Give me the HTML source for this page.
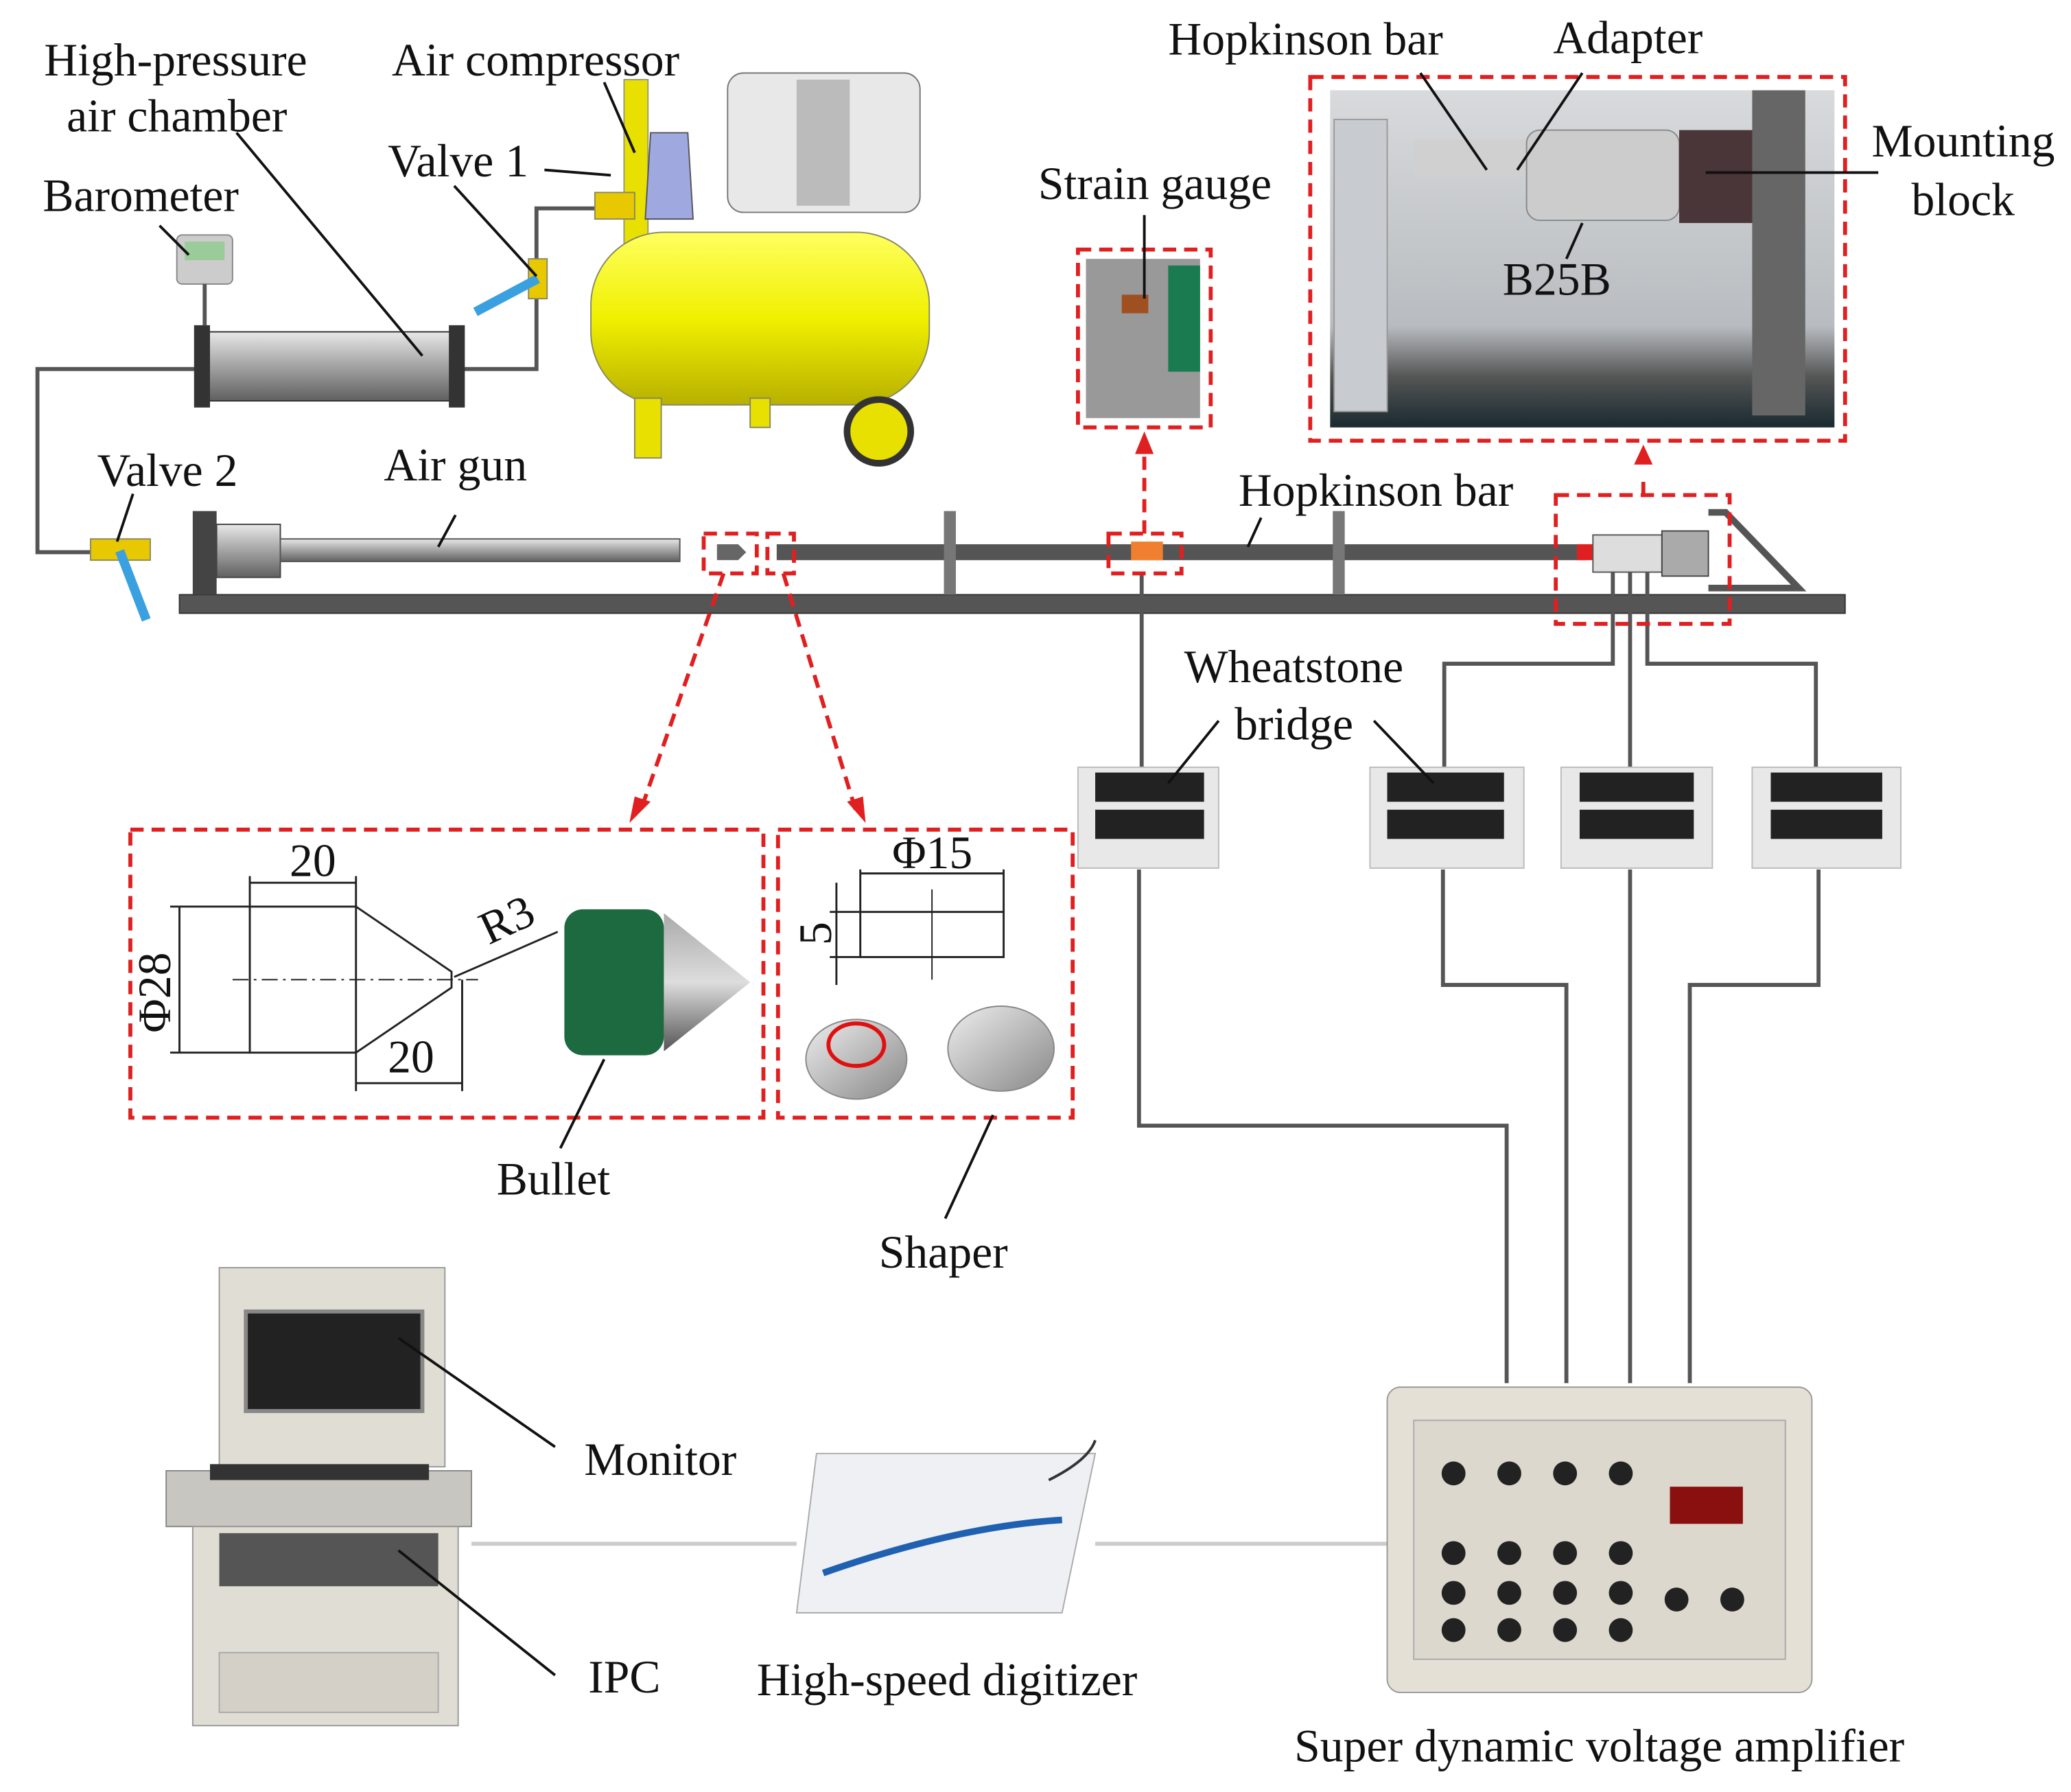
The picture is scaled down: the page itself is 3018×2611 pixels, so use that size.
<!DOCTYPE html>
<html><head><meta charset="utf-8"><style>
html,body{margin:0;padding:0;background:#fff}
svg{display:block}
text{font-family:"Liberation Serif",serif;font-size:35px;fill:#111}
</style></head><body>
<svg width="3018" height="2611" viewBox="0 0 1560 1350" xmlns="http://www.w3.org/2000/svg">
<defs>
<linearGradient id="cyl" x1="0" y1="0" x2="0" y2="1"><stop offset="0" stop-color="#e8e8e8"/><stop offset=".4" stop-color="#b0b0b0"/><stop offset="1" stop-color="#606060"/></linearGradient>
<linearGradient id="yel" x1="0" y1="0" x2="0" y2="1"><stop offset="0" stop-color="#ffff60"/><stop offset=".5" stop-color="#f0f000"/><stop offset="1" stop-color="#b8b000"/></linearGradient>
<linearGradient id="photo" x1="0" y1="0" x2="0" y2="1"><stop offset="0" stop-color="#d8dadc"/><stop offset=".7" stop-color="#b8bcc0"/><stop offset=".85" stop-color="#555"/><stop offset="1" stop-color="#1a2a30"/></linearGradient>
<linearGradient id="disc" x1="0" y1="0" x2="1" y2="1"><stop offset="0" stop-color="#eee"/><stop offset="1" stop-color="#888"/></linearGradient>
<linearGradient id="cone" x1="0" y1="0" x2="0" y2="1"><stop offset="0" stop-color="#aaa"/><stop offset=".5" stop-color="#ddd"/><stop offset="1" stop-color="#555"/></linearGradient>
</defs>
<g fill="none" stroke="#555" stroke-width="3">
<polyline points="150,278 28,278 28,416 70,416"/>
<polyline points="345,278 404,278 404,157 450,157"/>
</g>
<rect x="133" y="177" width="42" height="37" rx="4" fill="#ccc" stroke="#888"/>
<rect x="139" y="182" width="30" height="14" fill="#9c9"/>
<line x1="154" y1="214" x2="154" y2="245" stroke="#555" stroke-width="3"/>
<rect x="152" y="250" width="192" height="52" fill="url(#cyl)" stroke="#333"/>
<rect x="146" y="245" width="12" height="62" fill="#333"/><rect x="338" y="245" width="12" height="62" fill="#333"/>
<rect x="398" y="195" width="14" height="30" fill="#e8c800" stroke="#886"/>
<line x1="405" y1="210" x2="358" y2="235" stroke="#3aa0e0" stroke-width="7"/>
<rect x="470" y="60" width="18" height="140" fill="#e8e000" stroke="#997"/>
<polygon points="490,100 518,100 522,165 486,165" fill="#a0a8e0" stroke="#555"/>
<rect x="448" y="145" width="30" height="20" fill="#e8c800" stroke="#886"/>
<rect x="548" y="55" width="145" height="105" rx="12" fill="#e8e8e8" stroke="#777"/>
<rect x="600" y="60" width="40" height="95" fill="#bbb"/>
<rect x="445" y="175" width="255" height="130" rx="55" fill="url(#yel)" stroke="#886"/>
<rect x="478" y="300" width="20" height="45" fill="#e8e000" stroke="#886"/>
<rect x="565" y="300" width="15" height="22" fill="#e8e000" stroke="#886"/>
<circle cx="662" cy="325" r="24" fill="#e8e000" stroke="#333" stroke-width="5"/>
<rect x="135" y="448" width="1255" height="14" fill="#555" stroke="#333"/>
<rect x="68" y="406" width="45" height="16" fill="#e8c800" stroke="#886"/>
<line x1="90" y1="415" x2="110" y2="467" stroke="#3aa0e0" stroke-width="7"/>
<rect x="145" y="385" width="18" height="63" fill="#444"/>
<rect x="163" y="395" width="48" height="40" fill="url(#cyl)" stroke="#444"/>
<rect x="211" y="406" width="301" height="17" fill="url(#cyl)" stroke="#555"/>
<polygon points="540,410 556,410 562,416 556,422 540,422" fill="#666"/>
<rect x="585" y="410" width="610" height="12" fill="#555"/>
<rect x="711" y="385" width="9" height="63" fill="#777"/><rect x="1004" y="385" width="9" height="63" fill="#777"/>
<rect x="852" y="408" width="24" height="14" fill="#f08030"/>
<rect x="1188" y="410" width="12" height="12" fill="#e02020"/>
<rect x="1200" y="403" width="52" height="28" fill="#ddd" stroke="#555"/>
<rect x="1252" y="400" width="35" height="34" fill="#aaa" stroke="#444"/>
<polyline points="1287,386 1300,386 1355,443 1287,443" fill="none" stroke="#555" stroke-width="5"/>
<g fill="none" stroke="#555" stroke-width="3">
<line x1="860" y1="432" x2="860" y2="580"/>
<polyline points="1215,431 1215,500 1088,500 1088,578"/>
<line x1="1228" y1="431" x2="1228" y2="578"/>
<polyline points="1241,431 1241,500 1368,500 1368,578"/>
<polyline points="858,655 858,848 1135,848 1135,1042"/>
<polyline points="1087,655 1087,742 1180,742 1180,1042"/>
<line x1="1228" y1="655" x2="1228" y2="1042"/>
<polyline points="1370,655 1370,742 1273,742 1273,1042"/>
<line x1="355" y1="1163" x2="600" y2="1163" stroke="#ccc"/>
<line x1="825" y1="1163" x2="1048" y2="1163" stroke="#ccc"/>
</g>
<g>
<rect x="812" y="578" width="106" height="76" fill="#e8e8e8" stroke="#bbb"/>
<rect x="825" y="582" width="82" height="22" fill="#222"/><rect x="825" y="610" width="82" height="22" fill="#222"/>
<rect x="1032" y="578" width="116" height="76" fill="#e8e8e8" stroke="#bbb"/>
<rect x="1045" y="582" width="88" height="22" fill="#222"/><rect x="1045" y="610" width="88" height="22" fill="#222"/>
<rect x="1176" y="578" width="114" height="76" fill="#e8e8e8" stroke="#bbb"/>
<rect x="1190" y="582" width="86" height="22" fill="#222"/><rect x="1190" y="610" width="86" height="22" fill="#222"/>
<rect x="1320" y="578" width="112" height="76" fill="#e8e8e8" stroke="#bbb"/>
<rect x="1334" y="582" width="84" height="22" fill="#222"/><rect x="1334" y="610" width="84" height="22" fill="#222"/>
</g>
<rect x="818" y="195" width="86" height="120" fill="#999"/>
<rect x="880" y="200" width="24" height="80" fill="#1a7a50"/>
<rect x="845" y="222" width="20" height="14" fill="#a05020"/>
<rect x="1002" y="68" width="380" height="254" fill="url(#photo)"/>
<rect x="1005" y="90" width="40" height="220" fill="#c8ccd0" stroke="#999"/>
<rect x="1065" y="105" width="85" height="28" fill="#d0d0d0"/>
<rect x="1150" y="98" width="115" height="68" rx="10" fill="#ccc" stroke="#888"/>
<rect x="1265" y="98" width="65" height="70" fill="#4a3538"/>
<rect x="1320" y="68" width="40" height="245" fill="#666"/>
<rect x="1045" y="1045" width="320" height="230" rx="10" fill="#e4e0d6" stroke="#999"/>
<rect x="1065" y="1070" width="280" height="180" fill="#dcd8ce" stroke="#aaa"/>
<rect x="1258" y="1120" width="55" height="28" fill="#8a1010"/>
<g fill="#222">
<circle cx="1095" cy="1110" r="9"/><circle cx="1137" cy="1110" r="9"/><circle cx="1179" cy="1110" r="9"/><circle cx="1221" cy="1110" r="9"/>
<circle cx="1095" cy="1170" r="9"/><circle cx="1137" cy="1170" r="9"/><circle cx="1179" cy="1170" r="9"/><circle cx="1221" cy="1170" r="9"/>
<circle cx="1095" cy="1200" r="9"/><circle cx="1137" cy="1200" r="9"/><circle cx="1179" cy="1200" r="9"/><circle cx="1221" cy="1200" r="9"/>
<circle cx="1095" cy="1228" r="9"/><circle cx="1137" cy="1228" r="9"/><circle cx="1179" cy="1228" r="9"/><circle cx="1221" cy="1228" r="9"/>
<circle cx="1263" cy="1205" r="9"/><circle cx="1305" cy="1205" r="9"/>
</g>
<rect x="165" y="955" width="170" height="150" fill="#e0ddd5" stroke="#999"/>
<rect x="185" y="988" width="133" height="75" fill="#222" stroke="#888" stroke-width="3"/>
<rect x="125" y="1108" width="230" height="42" fill="#c8c6c0" stroke="#888"/>
<rect x="158" y="1103" width="165" height="12" fill="#333"/>
<rect x="145" y="1150" width="200" height="150" fill="#e0ddd5" stroke="#999"/>
<rect x="165" y="1155" width="165" height="40" fill="#555"/>
<rect x="165" y="1245" width="165" height="45" fill="#d4d0c8" stroke="#aaa"/>
<polygon points="615,1095 825,1095 800,1215 600,1215" fill="#eef0f4" stroke="#aaa"/>
<path d="M620,1185 Q720,1150 800,1145" stroke="#2060b0" stroke-width="5" fill="none"/>
<path d="M790,1115 Q820,1100 825,1085" stroke="#333" stroke-width="2" fill="none"/>
<g fill="none" stroke="#222" stroke-width="1.5">
<rect x="188" y="683" width="80" height="110"/>
<polyline points="268,683 340,732 340,744 268,793"/>
<line x1="175" y1="738" x2="360" y2="738" stroke-dasharray="12,4,2,4" stroke-width="1"/>
<line x1="188" y1="660" x2="188" y2="683"/><line x1="268" y1="660" x2="268" y2="683"/>
<line x1="188" y1="665" x2="268" y2="665"/>
<line x1="268" y1="793" x2="268" y2="822"/><line x1="348" y1="738" x2="348" y2="822"/>
<line x1="268" y1="816" x2="348" y2="816"/>
<line x1="128" y1="683" x2="188" y2="683"/><line x1="128" y1="793" x2="188" y2="793"/>
<line x1="135" y1="683" x2="135" y2="793"/>
<line x1="342" y1="736" x2="420" y2="702"/>
<rect x="648" y="687" width="108" height="34"/>
<line x1="702" y1="670" x2="702" y2="738" stroke-width="1"/>
<line x1="648" y1="655" x2="648" y2="687"/><line x1="756" y1="655" x2="756" y2="687"/>
<line x1="648" y1="658" x2="756" y2="658"/>
<line x1="625" y1="687" x2="648" y2="687"/><line x1="625" y1="721" x2="648" y2="721"/>
<line x1="630" y1="665" x2="630" y2="742"/>
</g>
<rect x="425" y="685" width="75" height="110" rx="14" fill="#1e6a40"/>
<polygon points="500,688 565,740 500,792" fill="url(#cone)"/>
<ellipse cx="645" cy="798" rx="38" ry="30" fill="url(#disc)" stroke="#888"/>
<ellipse cx="645" cy="787" rx="21" ry="16" fill="none" stroke="#e01010" stroke-width="3"/>
<ellipse cx="754" cy="790" rx="40" ry="32" fill="url(#disc)" stroke="#888"/>
<g fill="none" stroke="#e02020" stroke-width="3" stroke-dasharray="10,6">
<rect x="98" y="625" width="477" height="217"/>
<rect x="586" y="625" width="222" height="217"/>
<rect x="812" y="188" width="100" height="134"/>
<rect x="987" y="58" width="403" height="274"/>
<rect x="1172" y="373" width="131" height="97"/>
<rect x="530" y="402" width="40" height="30"/>
<rect x="578" y="402" width="20" height="30"/>
<rect x="835" y="402" width="55" height="30"/>
<line x1="545" y1="432" x2="482" y2="612"/>
<line x1="590" y1="432" x2="645" y2="612"/>
<line x1="862" y1="402" x2="862" y2="338"/>
<polyline points="1238,373 1238,358"/>
</g>
<g fill="#e02020">
<polygon points="474,620 478,600 490,604"/>
<polygon points="652,620 638,604 650,600"/>
<polygon points="862,325 855,342 869,342"/>
<polygon points="1238,335 1231,350 1245,350"/>
</g>
<g stroke="#111" stroke-width="2" fill="none">
<line x1="178" y1="100" x2="318" y2="268"/>
<line x1="455" y1="62" x2="478" y2="115"/>
<line x1="410" y1="128" x2="460" y2="132"/>
<line x1="342" y1="140" x2="404" y2="208"/>
<line x1="120" y1="170" x2="142" y2="192"/>
<line x1="100" y1="372" x2="88" y2="408"/>
<line x1="343" y1="388" x2="330" y2="412"/>
<line x1="1070" y1="55" x2="1120" y2="128"/>
<line x1="1192" y1="55" x2="1143" y2="128"/>
<line x1="1415" y1="130" x2="1285" y2="130"/>
<line x1="1192" y1="168" x2="1180" y2="195"/>
<line x1="862" y1="162" x2="862" y2="225"/>
<line x1="950" y1="390" x2="940" y2="412"/>
<line x1="918" y1="543" x2="880" y2="590"/>
<line x1="1035" y1="543" x2="1080" y2="590"/>
<line x1="455" y1="798" x2="422" y2="865"/>
<line x1="748" y1="840" x2="712" y2="918"/>
<line x1="300" y1="1008" x2="418" y2="1090"/>
<line x1="300" y1="1168" x2="418" y2="1262"/>
</g>
<text x="33" y="57">High-pressure</text>
<text x="50" y="99">air chamber</text>
<text x="295" y="57">Air compressor</text>
<text x="292" y="133">Valve 1</text>
<text x="32" y="159">Barometer</text>
<text x="73" y="366">Valve 2</text>
<text x="289" y="362">Air gun</text>
<text x="880" y="41">Hopkinson bar</text>
<text x="1170" y="40">Adapter</text>
<text x="1410" y="118">Mounting</text>
<text x="1440" y="162">block</text>
<text x="782" y="150">Strain gauge</text>
<text x="1132" y="222">B25B</text>
<text x="933" y="381">Hopkinson bar</text>
<text x="892" y="514">Wheatstone</text>
<text x="930" y="557">bridge</text>
<text x="218" y="660" font-size="29">20</text>
<text x="292" y="808" font-size="29">20</text>
<text x="0" y="0" font-size="29" transform="translate(368,712) rotate(-25)">R3</text>
<text x="0" y="0" font-size="29" transform="translate(128,778) rotate(-90)">Φ28</text>
<text x="672" y="654" font-size="29">Φ15</text>
<text x="0" y="0" font-size="29" transform="translate(626,712) rotate(-90)">5</text>
<text x="374" y="900">Bullet</text>
<text x="662" y="955">Shaper</text>
<text x="440" y="1111">Monitor</text>
<text x="443" y="1275">IPC</text>
<text x="570" y="1277">High-speed digitizer</text>
<text x="975" y="1327">Super dynamic voltage amplifier</text>
</svg>
</body></html>
